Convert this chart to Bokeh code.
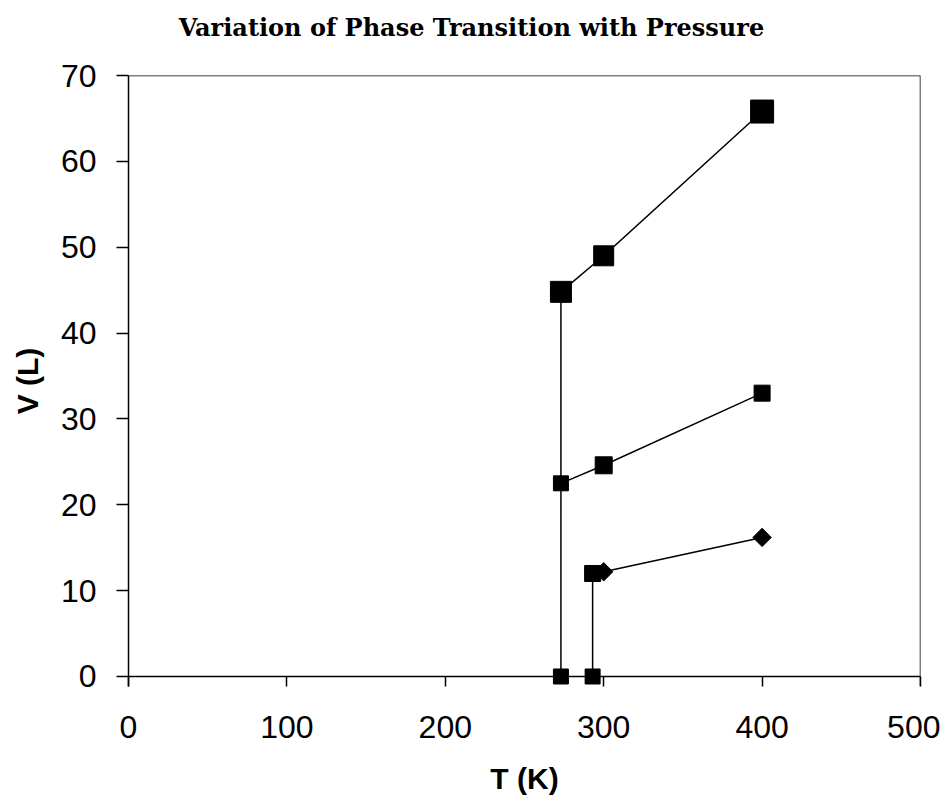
from bokeh.plotting import figure
from bokeh.layouts import column
from bokeh.models import Range1d, Span, FixedTicker, ColumnDataSource
from bokeh.core.properties import value
from bokeh.embed import file_html
from bokeh.resources import INLINE

# ---- data ----
T_high = [273, 273, 300, 400]
V_high = [0.0, 44.8, 49.0, 65.8]
T_mid = [273, 300, 400]
V_mid = [22.5, 24.6, 33.0]
T_low = [293, 293, 300, 400]
V_low = [0.0, 12.0, 12.2, 16.2]
x_ticks = [0, 100, 200, 300, 400, 500]
y_ticks = [0, 10, 20, 30, 40, 50, 60, 70]
title_text = "Variation of Phase Transition with Pressure"

# marker styling per point (style, not data)
high_sizes = [15, 21, 20, 23]
high_marks = ["square", "square", "square", "square"]
high_angle = [0, 0, 0, 0]
mid_sizes = [15, 17, 16]
mid_marks = ["square", "square", "square"]
mid_angle = [0, 0, 0]
low_sizes = [15, 16, 13, 13]
low_marks = ["square", "square", "square", "square"]
low_angle = [0, 0, 0.785398, 0.785398]

TICK_FONT = "Liberation Sans"
LABEL_FONT = "Liberation Sans"

W = 940
TITLE_H = 46
MAIN_H = 754
TOP = 75 - TITLE_H
FRAME_H = 611

# ---- title strip ----
t = figure(width=W, height=TITLE_H, output_backend="svg", toolbar_location=None,
           x_range=Range1d(0, W), y_range=Range1d(0, TITLE_H),
           x_axis_location=None, y_axis_location=None,
           min_border=0, min_border_left=0, min_border_right=0,
           min_border_top=0, min_border_bottom=0)
t.outline_line_color = None
t.background_fill_color = "white"
t.border_fill_color = "white"
t.xgrid.visible = False
t.ygrid.visible = False
t.text(x=[407], y=[TITLE_H - 27], text=[title_text],
       text_font=value("DejaVu Serif"), text_font_style="bold",
       text_font_size="24px", text_align="center", text_baseline="middle",
       text_color="black")

# ---- main chart ----
p = figure(width=W, height=MAIN_H, output_backend="svg", toolbar_location=None,
           x_range=Range1d(0, 500), y_range=Range1d(-1.165, 70),
           min_border_left=128, min_border_right=20, min_border_top=TOP,
           min_border_bottom=MAIN_H - TOP - FRAME_H)
p.background_fill_color = "white"
p.border_fill_color = "white"
p.outline_line_color = None
p.xgrid.visible = False
p.ygrid.visible = False

for ax in (p.xaxis[0], p.yaxis[0]):
    ax.axis_line_color = "black"
    ax.axis_line_width = 1.5
    ax.major_tick_line_color = "black"
    ax.major_tick_line_width = 1.5
    ax.minor_tick_line_color = None
    ax.major_label_text_font = TICK_FONT
    ax.major_label_text_font_size = "32px"
    ax.major_label_text_color = "black"
    ax.axis_label_text_font = LABEL_FONT
    ax.axis_label_text_font_style = "bold"
    ax.axis_label_text_font_size = "30px"
    ax.axis_label_text_color = "black"

xa, ya = p.xaxis[0], p.yaxis[0]
xa.ticker = FixedTicker(ticks=x_ticks)
ya.ticker = FixedTicker(ticks=y_ticks)

# x axis sits at the frame bottom (10 px below V=0); its ticks reach up to V=0
xa.axis_line_color = None
xa.major_tick_in = 10
xa.major_tick_out = 0
xa.major_label_standoff = 29
xa.axis_label = "T (K)"
xa.axis_label_standoff = 21

ya.major_tick_in = 0
ya.major_tick_out = 12
ya.major_label_standoff = 20
ya.axis_label = "V (L)"
ya.axis_label_standoff = 14

# axis line at V = 0 and the top / right frame border
p.add_layout(Span(location=0, dimension="width", line_color="black", line_width=1.5))
p.add_layout(Span(location=70, dimension="width", line_color="black", line_width=1.5))
p.add_layout(Span(location=500, dimension="height", line_color="black", line_width=1.5))

def series(xs, ys, sizes, marks, angles):
    src = ColumnDataSource(dict(x=xs, y=ys, size=sizes, marker=marks, angle=angles))
    p.line("x", "y", source=src, line_color="black", line_width=1.5)
    p.scatter("x", "y", source=src, size="size", marker="marker", angle="angle",
              fill_color="black", line_color="black")

series(T_high, V_high, high_sizes, high_marks, high_angle)
series(T_mid, V_mid, mid_sizes, mid_marks, mid_angle)
series(T_low, V_low, low_sizes, low_marks, low_angle)

layout = column(t, p, spacing=0)
open("out.html", "w").write(file_html(layout, INLINE))
